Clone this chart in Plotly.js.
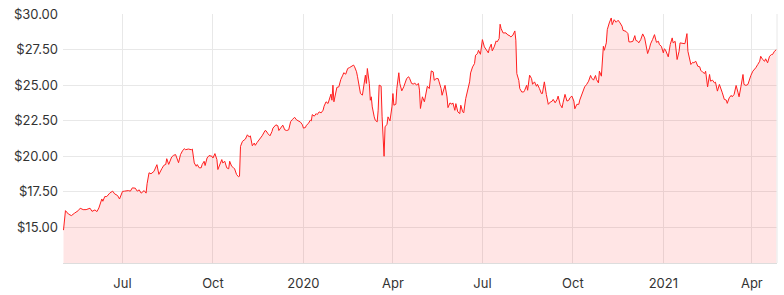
<!DOCTYPE html>
<html>
<head>
<meta charset="utf-8">
<script src="https://cdn.plot.ly/plotly-3.0.1.min.js"></script>
<style>
  html, body { margin: 0; padding: 0; background: #ffffff; }
  #chart { width: 784px; height: 295px; }
</style>
</head>
<body>
<div id="chart"></div>
<script>
// ---- Data (share price, USD) ----
const dates2019 = [
  '2019-05-02','2019-05-04','2019-05-07','2019-05-10','2019-05-13','2019-05-17','2019-05-19','2019-05-22','2019-05-25','2019-05-29',
  '2019-05-31','2019-06-03','2019-06-05','2019-06-07','2019-06-10','2019-06-11','2019-06-13','2019-06-15','2019-06-18','2019-06-21',
  '2019-06-23','2019-06-26','2019-06-28','2019-07-01','2019-07-03','2019-07-07','2019-07-09','2019-07-11','2019-07-14','2019-07-16',
  '2019-07-18','2019-07-20','2019-07-23','2019-07-25','2019-07-26','2019-07-28','2019-07-30','2019-08-02','2019-08-05','2019-08-07',
  '2019-08-10','2019-08-12','2019-08-14','2019-08-15','2019-08-17','2019-08-20','2019-08-22','2019-08-24','2019-08-27','2019-08-29',
  '2019-08-31','2019-09-02','2019-09-03','2019-09-06','2019-09-09','2019-09-10','2019-09-12','2019-09-14','2019-09-15','2019-09-17',
  '2019-09-19','2019-09-20','2019-09-22','2019-09-23','2019-09-25','2019-09-27','2019-09-30','2019-10-01','2019-10-03','2019-10-05',
  '2019-10-06','2019-10-08','2019-10-10','2019-10-11','2019-10-13','2019-10-15','2019-10-17','2019-10-18','2019-10-20','2019-10-22',
  '2019-10-23','2019-10-25','2019-10-27','2019-10-28','2019-10-29','2019-10-31','2019-11-02','2019-11-03','2019-11-05','2019-11-07',
  '2019-11-08','2019-11-10','2019-11-12','2019-11-13','2019-11-15','2019-11-17','2019-11-19','2019-11-20','2019-11-23','2019-11-24',
  '2019-11-26','2019-11-28','2019-11-30','2019-12-01','2019-12-04','2019-12-06','2019-12-07','2019-12-09','2019-12-11','2019-12-13',
  '2019-12-15','2019-12-17','2019-12-19','2019-12-21','2019-12-23','2019-12-25','2019-12-27','2019-12-29','2019-12-31'
];
const prices2019 = [
  14.81,16.18,15.94,15.83,15.99,16.18,16.35,16.25,16.25,16.35,
  16.13,16.23,16.11,16.37,17.00,16.84,17.17,17.17,17.41,17.55,
  17.36,17.24,17.00,17.53,17.55,17.59,17.55,17.78,17.76,17.55,
  17.64,17.41,17.59,17.41,18.07,18.84,18.77,18.94,19.41,18.73,
  19.13,19.36,19.43,19.83,19.43,19.95,20.07,20.12,19.55,20.12,
  20.38,20.54,20.46,20.51,20.46,20.51,19.53,19.30,19.42,19.19,
  19.19,19.42,19.65,19.35,19.88,20.05,20.00,19.88,20.19,19.77,
  19.07,19.42,19.77,19.53,19.65,19.19,19.12,19.65,19.30,19.19,
  19.12,18.72,18.56,18.60,20.70,21.05,21.16,21.21,21.51,21.35,
  21.44,20.74,20.93,20.77,20.98,21.16,21.39,21.44,21.81,21.79,
  21.58,21.44,21.74,21.98,22.21,22.14,21.81,21.98,22.19,21.86,
  21.81,21.86,22.44,22.60,22.74,22.56,22.49,22.40,22.21
];
const dates2020 = [
  '2020-01-01','2020-01-03','2020-01-04','2020-01-06','2020-01-08','2020-01-09','2020-01-10','2020-01-12','2020-01-14','2020-01-15',
  '2020-01-17','2020-01-19','2020-01-21','2020-01-22','2020-01-24','2020-01-26','2020-01-27','2020-01-29','2020-01-30','2020-01-31',
  '2020-02-01','2020-02-03','2020-02-04','2020-02-06','2020-02-08','2020-02-10','2020-02-11','2020-02-13','2020-02-15','2020-02-17',
  '2020-02-18','2020-02-20','2020-02-21','2020-02-22','2020-02-24','2020-02-25','2020-02-27','2020-02-28','2020-03-01','2020-03-03',
  '2020-03-04','2020-03-05','2020-03-06','2020-03-08','2020-03-09','2020-03-10','2020-03-11','2020-03-13','2020-03-14','2020-03-16',
  '2020-03-17','2020-03-18','2020-03-20','2020-03-21','2020-03-22','2020-03-23','2020-03-24','2020-03-26','2020-03-27','2020-03-29',
  '2020-03-31','2020-04-01','2020-04-02','2020-04-04','2020-04-05','2020-04-07','2020-04-08','2020-04-10','2020-04-12','2020-04-13',
  '2020-04-15','2020-04-17','2020-04-18','2020-04-20','2020-04-22','2020-04-23','2020-04-25','2020-04-27','2020-04-28','2020-04-29',
  '2020-05-01','2020-05-03','2020-05-05','2020-05-06','2020-05-08','2020-05-10','2020-05-12','2020-05-13','2020-05-15','2020-05-17',
  '2020-05-18','2020-05-20','2020-05-21','2020-05-23','2020-05-24','2020-05-26','2020-05-27','2020-05-29','2020-05-31','2020-06-01',
  '2020-06-03','2020-06-04','2020-06-06','2020-06-08','2020-06-09','2020-06-11','2020-06-12','2020-06-14','2020-06-16','2020-06-18',
  '2020-06-19','2020-06-21','2020-06-23','2020-06-24','2020-06-26','2020-06-27','2020-06-29','2020-06-30','2020-07-01','2020-07-03',
  '2020-07-05','2020-07-07','2020-07-08','2020-07-10','2020-07-11','2020-07-13','2020-07-15','2020-07-16','2020-07-18','2020-07-19',
  '2020-07-20','2020-07-22','2020-07-23','2020-07-25','2020-07-27','2020-07-28','2020-07-30','2020-08-01','2020-08-03','2020-08-04',
  '2020-08-05','2020-08-07','2020-08-08','2020-08-10','2020-08-12','2020-08-13','2020-08-15','2020-08-16','2020-08-18','2020-08-20',
  '2020-08-21','2020-08-23','2020-08-25','2020-08-26','2020-08-28','2020-08-30','2020-08-31','2020-09-02','2020-09-04','2020-09-06',
  '2020-09-08','2020-09-10','2020-09-11','2020-09-13','2020-09-15','2020-09-16','2020-09-18','2020-09-20','2020-09-21','2020-09-23',
  '2020-09-25','2020-09-27','2020-09-28','2020-09-30','2020-10-02','2020-10-03','2020-10-05','2020-10-07','2020-10-08','2020-10-10',
  '2020-10-12','2020-10-13','2020-10-15','2020-10-17','2020-10-19','2020-10-20','2020-10-22','2020-10-24','2020-10-25','2020-10-27',
  '2020-10-28','2020-10-30','2020-11-01','2020-11-02','2020-11-04','2020-11-05','2020-11-07','2020-11-09','2020-11-10','2020-11-12',
  '2020-11-14','2020-11-16','2020-11-18','2020-11-20','2020-11-21','2020-11-24','2020-11-26','2020-11-27','2020-11-29','2020-12-01',
  '2020-12-03','2020-12-04','2020-12-06','2020-12-07','2020-12-09','2020-12-11','2020-12-13','2020-12-15','2020-12-16','2020-12-18',
  '2020-12-19','2020-12-21','2020-12-23','2020-12-25','2020-12-27','2020-12-28','2020-12-30'
];
const prices2020 = [
  21.98,22.02,22.18,22.30,22.54,22.49,22.93,22.82,23.00,22.93,
  23.12,23.05,23.24,23.52,23.83,23.71,23.94,24.37,23.94,25.00,
  23.83,24.53,24.84,24.88,25.40,25.70,25.87,25.77,26.17,26.24,
  26.29,26.41,26.41,26.29,25.94,25.59,24.88,24.41,24.30,25.47,
  25.70,25.12,26.17,25.12,23.94,24.18,23.47,22.77,22.54,22.42,
  23.24,25.00,24.93,22.77,21.60,20.00,22.07,22.25,22.77,22.49,
  23.47,24.41,23.59,23.66,24.77,25.87,25.12,24.60,24.88,25.12,
  25.47,25.59,25.47,25.12,25.07,25.16,25.00,25.12,24.65,23.36,
  24.18,23.83,24.52,24.92,24.76,26.00,25.93,25.34,25.46,25.46,
  25.23,24.76,24.29,24.83,24.99,24.17,23.42,23.75,23.66,23.75,
  23.23,23.70,23.12,23.00,23.59,23.12,23.05,24.05,24.64,25.23,
  25.86,26.28,26.52,27.10,27.22,27.45,27.17,27.69,28.20,27.69,
  27.50,27.27,27.57,27.88,27.41,27.69,28.11,28.04,28.27,29.28,
  28.98,28.67,28.67,28.67,28.51,28.51,28.39,28.51,28.81,28.16,
  25.81,25.34,24.76,24.52,24.52,24.64,24.99,24.64,25.70,25.46,
  25.06,25.23,24.92,25.06,24.76,24.41,24.41,25.23,24.35,23.65,
  23.81,23.88,24.00,23.76,24.00,24.23,23.65,23.41,23.76,24.35,
  23.88,23.95,24.11,24.23,23.88,23.34,23.65,23.65,23.95,24.28,
  24.70,24.88,25.05,25.28,25.68,25.51,25.35,25.68,25.40,25.16,
  25.98,25.63,27.73,27.45,27.97,28.90,29.37,29.72,29.25,29.60,
  29.42,29.56,29.37,29.14,28.85,28.78,28.62,28.04,28.04,28.08,
  28.48,28.15,28.08,27.97,28.20,28.60,28.32,27.38,27.22,27.62,
  27.90,28.20,28.55,28.01,28.08,27.85,27.73
];
const dates2021 = [
  '2021-01-01','2021-01-02','2021-01-03','2021-01-05','2021-01-06','2021-01-08','2021-01-10','2021-01-11','2021-01-13','2021-01-15',
  '2021-01-17','2021-01-18','2021-01-20','2021-01-22','2021-01-23','2021-01-25','2021-01-26','2021-01-27','2021-01-29','2021-01-31',
  '2021-02-01','2021-02-03','2021-02-05','2021-02-07','2021-02-08','2021-02-10','2021-02-12','2021-02-13','2021-02-15','2021-02-17',
  '2021-02-18','2021-02-20','2021-02-22','2021-02-23','2021-02-25','2021-02-27','2021-03-01','2021-03-02','2021-03-04','2021-03-06',
  '2021-03-07','2021-03-09','2021-03-11','2021-03-12','2021-03-14','2021-03-16','2021-03-18','2021-03-19','2021-03-21','2021-03-23',
  '2021-03-24','2021-03-26','2021-03-28','2021-03-29','2021-03-31','2021-04-02','2021-04-03','2021-04-05','2021-04-07','2021-04-09',
  '2021-04-10','2021-04-12','2021-04-14','2021-04-15','2021-04-17','2021-04-19','2021-04-21','2021-04-22','2021-04-24','2021-04-26'
];
const prices2021 = [
  27.27,27.55,27.50,27.08,26.99,27.85,28.32,27.97,28.08,26.80,
  27.38,27.97,27.92,27.92,27.92,28.62,27.38,27.03,26.45,26.61,
  26.57,26.68,26.33,26.29,26.05,25.91,25.82,25.98,24.88,25.75,
  25.28,25.35,25.16,25.21,24.58,25.05,24.74,24.46,24.00,23.95,
  23.72,24.11,24.28,24.18,24.35,24.98,24.46,24.18,24.93,25.75,
  25.05,24.98,25.05,25.28,25.68,25.98,26.05,26.22,26.45,26.68,
  27.03,26.80,26.68,26.85,26.57,27.03,27.15,27.15,27.38,27.50
];

// ---- Axis ticks ----
const xTickVals = ['2019-07-01','2019-10-01','2020-01-01','2020-04-01','2020-07-01','2020-10-01','2021-01-01','2021-04-01'];
const xTickText = ['Jul','Oct','2020','Apr','Jul','Oct','2021','Apr'];
const yTickVals = [15, 17.5, 20, 22.5, 25, 27.5, 30];
const yTickText = ['$15.00','$17.50','$20.00','$22.50','$25.00','$27.50','$30.00'];
const xRange = ['2019-05-01 12:00', '2021-04-26 14:00'];
const yRange = [12.5, 30];

const dates = dates2019.concat(dates2020, dates2021);
const prices = prices2019.concat(prices2020, prices2021);

const gridColor = '#e8e8e8';
const trace = {
  type: 'scatter',
  mode: 'lines',
  x: dates,
  y: prices,
  line: { color: '#ff1f1f', width: 1 },
  fill: 'tozeroy',
  fillcolor: 'rgba(255, 0, 0, 0.1)',
  hoverinfo: 'skip'
};

const layout = {
  width: 784,
  height: 295,
  margin: { l: 63, r: 7, t: 14, b: 32 },
  paper_bgcolor: '#ffffff',
  plot_bgcolor: '#ffffff',
  showlegend: false,
  font: { family: 'Inter, Lato, sans-serif', size: 13, color: '#333333' },
  xaxis: {
    type: 'date',
    range: xRange,
    tickmode: 'array',
    tickvals: xTickVals,
    ticktext: xTickText,
    showgrid: true,
    gridcolor: gridColor,
    gridwidth: 1,
    showline: true,
    linecolor: '#dddddd',
    linewidth: 1,
    zeroline: false,
    ticks: '',
    ticklabelstandoff: 8,
    tickfont: { family: 'Inter, Lato, sans-serif', size: 13, color: '#333333' }
  },
  yaxis: {
    range: yRange,
    tickmode: 'array',
    tickvals: yTickVals,
    ticktext: yTickText,
    showgrid: true,
    gridcolor: gridColor,
    gridwidth: 1,
    showline: false,
    zeroline: false,
    ticks: '',
    ticklabelstandoff: 4,
    tickfont: { family: 'Inter, Lato, sans-serif', size: 13, color: '#333333' }
  },
  shapes: [
    { type: 'line', xref: 'paper', yref: 'paper', x0: 1, x1: 1, y0: 0, y1: 1,
      line: { color: gridColor, width: 1 } }
  ]
};

Plotly.newPlot('chart', [trace], layout, { staticPlot: true, displayModeBar: false });
</script>
</body>
</html>
